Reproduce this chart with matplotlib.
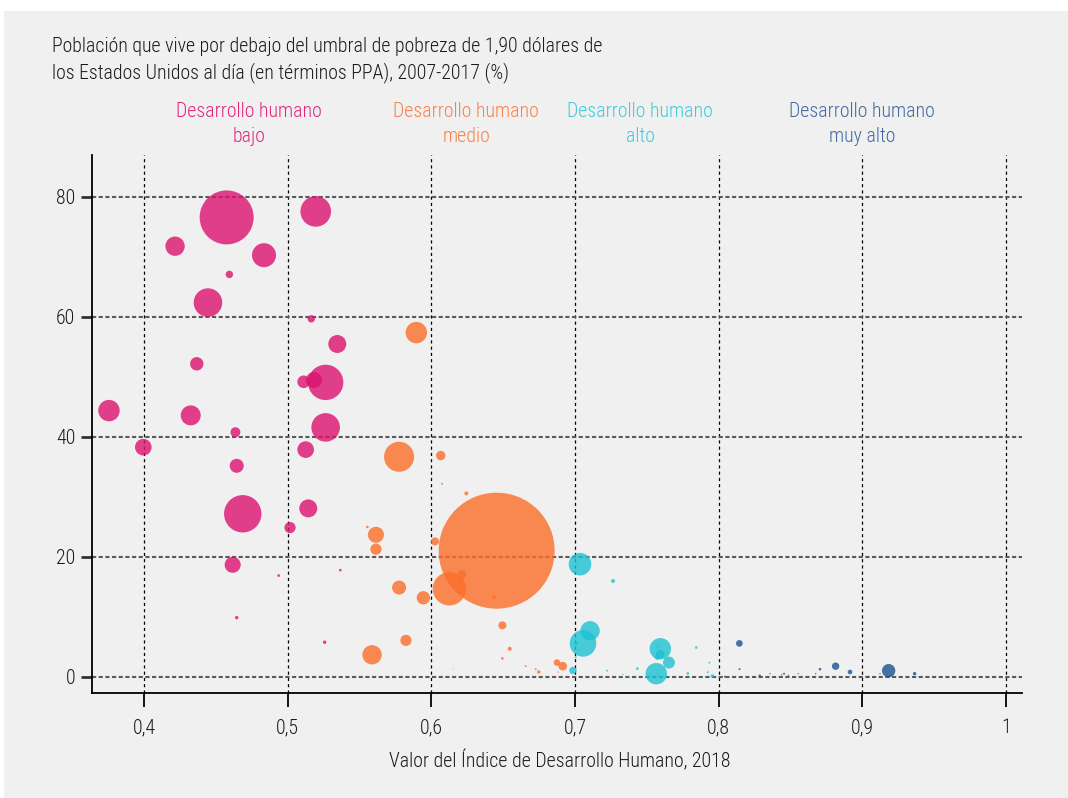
import matplotlib
matplotlib.use("Agg")
import matplotlib.pyplot as plt
from matplotlib import font_manager as fm
from matplotlib.patches import Rectangle

# --- data: HDI value, % below 1.90 USD/day, millions of poor people (bubble area)
idh_bajo = [0.4575, 0.5195, 0.4216, 0.4835, 0.4594, 0.4445, 0.5164, 0.5345, 0.4367,
            0.5111, 0.5264, 0.5183, 0.3756, 0.4325, 0.5264, 0.4636, 0.3995, 0.5125,
            0.4645, 0.4687, 0.5143, 0.5016, 0.4617, 0.4937, 0.5366, 0.4645, 0.5257]
pob_bajo = [76.6, 77.6, 71.8, 70.3, 67.1, 62.4, 59.7, 55.5, 52.2, 49.2, 49.1, 49.5,
            44.4, 43.6, 41.6, 40.8, 38.3, 37.9, 35.2, 27.2, 28.1, 24.9, 18.7, 16.9,
            17.8, 9.9, 5.8]
pobres_bajo = [62.2, 20.0, 8.0, 12.3, 1.17, 17.4, 1.17, 6.9, 3.83, 3.4, 26.7, 5.5,
               9.8, 8.5, 17.4, 2.1, 5.9, 5.9, 4.2, 29.8, 6.9, 2.7, 5.5, 0.15, 0.15,
               0.25, 0.25]

idh_medio = [0.5895, 0.5775, 0.6065, 0.6074, 0.6243, 0.6454, 0.5554, 0.5614, 0.5614,
             0.6025, 0.6213, 0.6125, 0.5775, 0.5944, 0.6436, 0.6494, 0.6545, 0.6494,
             0.5823, 0.5587, 0.6656, 0.6726, 0.6747, 0.6874, 0.6914, 0.6883, 0.6152]
pob_medio = [57.4, 36.7, 36.9, 32.2, 30.6, 21.05, 25.0, 23.7, 21.3, 22.6, 17.1, 14.7,
             14.9, 13.2, 13.3, 8.6, 4.7, 3.1, 6.1, 3.7, 1.8, 1.3, 0.83, 2.4, 1.8,
             0.8, 1.3]
pobres_medio = [9.8, 19.2, 1.9, 0.085, 0.34, 287, 0.15, 5.5, 2.7, 1.37, 1.58, 23.7,
                4.2, 3.8, 0.25, 1.37, 0.34, 0.15, 2.7, 8.0, 0.085, 0.085, 0.25, 0.95,
                1.58, 0.04, 0.02]

idh_alto = [0.7034, 0.7264, 0.7104, 0.7055, 0.7008, 0.6985, 0.7004, 0.7593, 0.7593,
            0.7572, 0.7653, 0.7565, 0.7433, 0.7224, 0.7333, 0.737, 0.7843, 0.7934,
            0.7784, 0.7923, 0.7955, 0.7575, 0.7575]
pob_alto = [18.8, 16.0, 7.7, 5.6, 5.6, 1.1, 3.3, 4.7, 3.8, 3.3, 2.4, 0.55, 1.4, 1.05,
            0.45, 0.1, 4.9, 2.4, 0.6, 0.8, 0.17, 5.05, 0.4]
pobres_alto = [10.9, 0.34, 8.0, 15.1, 0.34, 1.17, 0.085, 9.8, 1.58, 0.6, 3.07, 9.8,
               0.15, 0.085, 0.04, 0.04, 0.15, 0.085, 0.15, 0.085, 0.25, 0.085, 0.085]

idh_muy_alto = [0.8143, 0.8813, 0.8913, 0.9182, 0.9363, 0.8144, 0.8043, 0.8285, 0.8454,
                0.8438, 0.8484, 0.8356, 0.8553, 0.8704, 0.8674, 0.904, 0.9122, 0.92,
                0.9356]
pob_muy_alto = [5.6, 1.8, 0.83, 1.05, 0.55, 1.3, 0.05, 0.2, 0.55, 0.38, 0.28, 0.55,
                0.55, 1.3, 0.55, 0.05, 0.55, 0.28, 0.55]
pobres_muy_alto = [0.95, 1.17, 0.46, 3.83, 0.25, 0.085, 0.085, 0.15, 0.085, 0.04, 0.04,
                   0.04, 0.04, 0.15, 0.04, 0.085, 0.04, 0.04, 0.04]

x_ticks = [0.4, 0.5, 0.6, 0.7, 0.8, 0.9, 1.0]
x_labels = ["0,4", "0,5", "0,6", "0,7", "0,8", "0,9", "1"]
y_ticks = [0, 20, 40, 60, 80]

grupos = ["Desarrollo humano\nbajo", "Desarrollo humano\nmedio",
          "Desarrollo humano\nalto", "Desarrollo humano\nmuy alto"]
colores = ["#dc1270", "#fb6e28", "#1ec2d2", "#195391"]
colores_texto = ["#e0287a", "#f98048", "#3ecbd8", "#41699f"]

# pick a narrow font if one is installed
names = {f.name for f in fm.fontManager.ttflist}
family, stretch = "DejaVu Sans", "normal"
for cand in ["Roboto Condensed", "Liberation Sans Narrow", "Open Sans Condensed",
             "Noto Sans Condensed", "Arial Narrow"]:
    if cand in names:
        family = cand
        break
else:
    if any(f.name == "DejaVu Sans" and f.stretch == "condensed" for f in fm.fontManager.ttflist):
        stretch = "condensed"
plt.rcParams["font.family"] = family
plt.rcParams["font.stretch"] = stretch
plt.rcParams["font.weight"] = "light"
plt.rcParams["axes.labelweight"] = "light"
plt.rcParams["font.size"] = 14.3
txt = "#1a1a1a"

fig = plt.figure(figsize=(10.68, 7.98), dpi=100, facecolor="white")
fig.patches.append(Rectangle((4 / 1068, 0), 1, 1 - 11 / 798, transform=fig.transFigure,
                             facecolor="#f0f0f0", edgecolor="none", zorder=-10))
ax = fig.add_axes([92 / 1068, 1 - 693 / 798, 930 / 1068, 538 / 798])
ax.set_facecolor("none")

# bubble area proportional to number of poor people
k = 24.3
series = [(idh_bajo, pob_bajo, pobres_bajo), (idh_medio, pob_medio, pobres_medio),
          (idh_alto, pob_alto, pobres_alto), (idh_muy_alto, pob_muy_alto, pobres_muy_alto)]
for (xs, ys, ps), c in zip(series, colores):
    ax.scatter(xs, ys, s=[k * p for p in ps], color=c, alpha=0.8,
               edgecolors="none", zorder=3)

ax.set_xlim(0.3638, 1.011)
ax.set_ylim(-2.67, 87)
ax.set_xticks(x_ticks)
ax.set_xticklabels(x_labels)
ax.set_yticks(y_ticks)

ax.xaxis.grid(True, color="black", linestyle=(0, (2.5, 2.5)), linewidth=0.9)
ax.yaxis.grid(True, color="#5a5a5a", linestyle=(0, (2, 1.2)), linewidth=1.5)
ax.set_axisbelow(True)

for s in ["top", "right"]:
    ax.spines[s].set_visible(False)
for s in ["left", "bottom"]:
    ax.spines[s].set_linewidth(1.3)
    ax.spines[s].set_color("black")

ax.tick_params(axis="y", length=8, width=2, color="#333333", pad=4, labelcolor=txt)
ax.tick_params(axis="x", length=10, width=1.3, color="black", pad=8, labelcolor=txt)

ax.set_xlabel("Valor del Índice de Desarrollo Humano, 2018", color=txt, fontweight="light")
ax.xaxis.set_label_coords((560 - 92) / 930, (693 - 761) / 538)
ax.xaxis.label.set_va("center")

fig.text(52 / 1068, 1 - 46 / 798,
         "Población que vive por debajo del umbral de pobreza de 1,90 dólares de",
         ha="left", va="center", color=txt)
fig.text(52 / 1068, 1 - 73 / 798,
         "los Estados Unidos al día (en términos PPA), 2007-2017 (%)",
         ha="left", va="center", color=txt)

grupo_x = [249, 466, 640, 862]
for g, gx, c in zip(grupos, grupo_x, colores_texto):
    fig.text(gx / 1068, 1 - 124 / 798, g, ha="center", va="center", color=c,
             linespacing=1.45)

fig.savefig("out.png", dpi=100, facecolor=fig.get_facecolor())
